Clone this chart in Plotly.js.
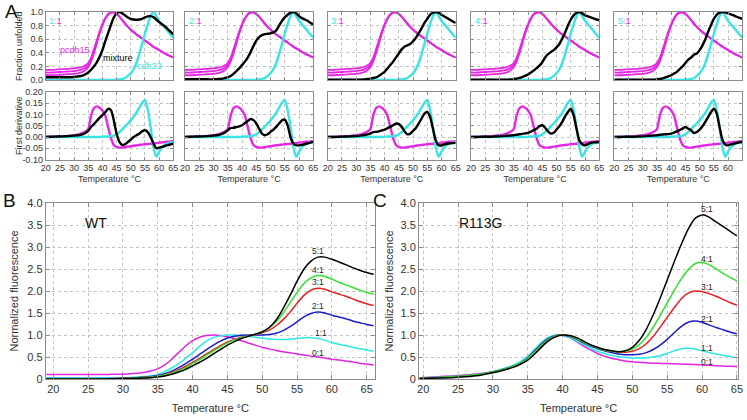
<!DOCTYPE html>
<html><head><meta charset="utf-8">
<script src="https://cdn.plot.ly/plotly-3.0.1.min.js"></script>
<style>html,body{margin:0;padding:0;background:#fff;}#chart{width:747px;height:420px;}</style>
</head><body><div id="chart"></div>
<script>
// ---------- Panel A data (fraction unfolded and first derivative) ----------
const tempA = [20,22,24,26,28,30,32,33,34,35,36,37,38,39,40,41,42,43,44,45,46,47,48,49,50,51,52,53,54,55,56,57,58,59,60,61,62,63,64,65];
const ratiosA = ['1','2','3','4','5'];
const pcdh15FracHi  = [0.15,0.15,0.155,0.16,0.165,0.17,0.185,0.195,0.215,0.25,0.33,0.45,0.58,0.71,0.82,0.91,0.97,0.995,0.995,0.97,0.93,0.88,0.83,0.78,0.74,0.705,0.67,0.64,0.61,0.58,0.55,0.52,0.49,0.465,0.44,0.415,0.39,0.37,0.35,0.33];
const pcdh15FracMid = [0.11,0.11,0.115,0.12,0.125,0.13,0.145,0.16,0.18,0.22,0.3,0.42,0.56,0.7,0.81,0.9,0.96,0.99,0.995,0.97,0.93,0.88,0.83,0.78,0.74,0.705,0.67,0.64,0.61,0.58,0.55,0.52,0.49,0.465,0.44,0.415,0.39,0.37,0.35,0.33];
const pcdh15FracLo  = [0.07,0.07,0.075,0.08,0.085,0.09,0.105,0.12,0.145,0.19,0.27,0.39,0.53,0.68,0.8,0.9,0.96,0.99,0.995,0.97,0.93,0.88,0.83,0.78,0.74,0.705,0.67,0.64,0.61,0.58,0.55,0.52,0.49,0.465,0.44,0.415,0.39,0.37,0.35,0.33];
const cdh23Frac = [0,0,0,0,0,0,0,0,0,0,0,0,0,0,0,0,0,0,0,0.005,0.01,0.015,0.03,0.06,0.1,0.16,0.25,0.38,0.53,0.68,0.82,0.94,1.0,0.94,0.87,0.82,0.77,0.72,0.67,0.62];
const mix11Frac = [0.04,0.04,0.04,0.04,0.04,0.045,0.055,0.065,0.085,0.11,0.15,0.2,0.26,0.34,0.44,0.57,0.69,0.81,0.92,0.98,1.0,0.98,0.95,0.92,0.9,0.89,0.885,0.89,0.9,0.92,0.935,0.94,0.925,0.89,0.85,0.82,0.79,0.75,0.71,0.67];
const mix21Frac = [0.01,0.01,0.01,0.01,0.01,0.01,0.015,0.02,0.03,0.04,0.06,0.09,0.13,0.17,0.22,0.27,0.33,0.41,0.5,0.58,0.63,0.66,0.675,0.68,0.685,0.7,0.73,0.8,0.87,0.92,0.96,0.99,1.0,0.98,0.94,0.91,0.89,0.87,0.84,0.82];
const mix31Frac = [0.005,0.005,0.005,0.005,0.005,0.005,0.005,0.01,0.015,0.02,0.03,0.04,0.06,0.09,0.12,0.17,0.22,0.27,0.33,0.39,0.45,0.49,0.51,0.53,0.57,0.62,0.69,0.76,0.84,0.9,0.96,0.99,1.0,0.99,0.96,0.935,0.91,0.885,0.86,0.84];
const mix41Frac = [0.005,0.005,0.005,0.005,0.005,0.005,0.005,0.005,0.008,0.01,0.02,0.03,0.045,0.06,0.08,0.11,0.14,0.175,0.21,0.26,0.33,0.38,0.41,0.44,0.48,0.53,0.61,0.7,0.8,0.89,0.95,0.99,1.0,0.98,0.95,0.935,0.92,0.905,0.89,0.88];
const mix51Frac = [0.005,0.005,0.005,0.005,0.005,0.005,0.005,0.005,0.005,0.01,0.015,0.025,0.04,0.055,0.07,0.095,0.12,0.16,0.2,0.25,0.3,0.33,0.37,0.39,0.44,0.51,0.6,0.71,0.81,0.9,0.96,0.99,1.0,0.995,0.98,0.965,0.95,0.93,0.915,0.9];
const pcdh15Deriv = [0,0.001,0.002,0.003,0.005,0.008,0.013,0.018,0.024,0.035,0.095,0.128,0.136,0.13,0.118,0.095,0.045,-0.005,-0.035,-0.044,-0.047,-0.047,-0.045,-0.043,-0.041,-0.039,-0.037,-0.035,-0.034,-0.032,-0.031,-0.03,-0.028,-0.027,-0.025,-0.024,-0.022,-0.021,-0.02,-0.019];
const cdh23Deriv = [0,0,0,0,0,0,0,0,0,0,0,0,0,0,0.001,0.002,0.003,0.004,0.006,0.012,0.022,0.034,0.047,0.06,0.074,0.09,0.108,0.13,0.152,0.165,0.12,0.045,-0.045,-0.088,-0.065,-0.047,-0.035,-0.028,-0.025,-0.022];
const mix11Deriv = [0,0.001,0.002,0.003,0.004,0.006,0.009,0.012,0.018,0.027,0.045,0.057,0.071,0.085,0.097,0.11,0.125,0.12,0.075,0.015,-0.022,-0.036,-0.032,-0.022,-0.012,0,0.008,0.015,0.025,0.03,0.022,0,-0.029,-0.05,-0.047,-0.044,-0.04,-0.036,-0.033,-0.03];
const mix21Deriv = [0,0.001,0.002,0.003,0.004,0.006,0.01,0.014,0.02,0.03,0.04,0.041,0.044,0.047,0.052,0.062,0.071,0.08,0.075,0.06,0.037,0.015,0.008,0.012,0.023,0.033,0.045,0.06,0.074,0.077,0.052,0,-0.029,-0.037,-0.037,-0.035,-0.032,-0.028,-0.025,-0.022];
const mix31Deriv = [0,0,0.001,0.002,0.003,0.004,0.007,0.009,0.012,0.016,0.022,0.023,0.025,0.029,0.033,0.039,0.045,0.052,0.06,0.057,0.045,0.025,0.012,0.015,0.027,0.04,0.06,0.082,0.104,0.111,0.089,0.037,-0.015,-0.037,-0.037,-0.033,-0.03,-0.028,-0.027,-0.026];
const mix41Deriv = [0,0,0.001,0.001,0.002,0.003,0.005,0.006,0.007,0.008,0.01,0.012,0.014,0.016,0.018,0.024,0.03,0.037,0.048,0.052,0.041,0.025,0.015,0.019,0.033,0.048,0.067,0.092,0.111,0.126,0.096,0.037,-0.015,-0.032,-0.037,-0.032,-0.026,-0.024,-0.023,-0.022];
const mix51Deriv = [0,0,0.001,0.001,0.002,0.003,0.005,0.006,0.007,0.008,0.01,0.011,0.012,0.013,0.015,0.02,0.025,0.031,0.037,0.045,0.037,0.03,0.018,0.022,0.033,0.048,0.067,0.089,0.111,0.126,0.104,0.045,-0.012,-0.034,-0.037,-0.033,-0.03,-0.026,-0.024,-0.022];
const fracTicks = [0,0.2,0.4,0.6,0.8,1.0];
const fracTickText = ['0.0','0.2','0.4','0.6','0.8','1.0'];
const derivTicks = [-0.1,-0.05,0,0.05,0.1,0.15,0.2];
const derivTickText = ['-0.10','-0.05','0.00','0.05','0.10','0.15','0.20'];
const tempTicks = [20,25,30,35,40,45,50,55,60,65];

// ---------- Panel B (WT) ----------
const tempB = [19,20,22,24,26,28,30,32,33,34,35,36,37,38,39,40,41,42,43,44,45,46,47,48,49,50,51,52,53,54,55,56,57,58,59,60,61,62,63,64,65,66];
const wt01 = [0.1,0.1,0.1,0.1,0.1,0.105,0.11,0.13,0.15,0.18,0.23,0.32,0.45,0.6,0.75,0.87,0.95,0.99,1.0,0.99,0.96,0.92,0.87,0.82,0.77,0.72,0.685,0.65,0.62,0.595,0.57,0.545,0.52,0.5,0.475,0.45,0.43,0.41,0.385,0.36,0.34,0.32];
const wt11 = [0.02,0.02,0.02,0.02,0.02,0.025,0.03,0.045,0.055,0.07,0.1,0.17,0.25,0.35,0.47,0.6,0.74,0.86,0.94,0.98,1.0,1.0,0.99,0.97,0.95,0.93,0.91,0.9,0.9,0.905,0.92,0.935,0.94,0.92,0.88,0.83,0.79,0.76,0.72,0.69,0.66,0.63];
const wt21 = [0.01,0.01,0.01,0.01,0.01,0.01,0.02,0.03,0.04,0.055,0.08,0.12,0.18,0.26,0.35,0.45,0.56,0.67,0.77,0.86,0.93,0.97,0.995,1.0,1.0,1.0,1.01,1.04,1.1,1.19,1.3,1.41,1.49,1.52,1.5,1.45,1.41,1.37,1.32,1.28,1.24,1.21];
const wt31 = [0.005,0.005,0.005,0.005,0.005,0.005,0.015,0.025,0.035,0.045,0.065,0.1,0.15,0.21,0.29,0.38,0.47,0.57,0.67,0.76,0.84,0.9,0.95,0.98,1.01,1.05,1.11,1.21,1.35,1.52,1.72,1.9,2.02,2.06,2.04,1.98,1.93,1.88,1.82,1.76,1.71,1.67];
const wt41 = [0.005,0.005,0.005,0.005,0.005,0.005,0.01,0.02,0.03,0.04,0.06,0.09,0.13,0.19,0.26,0.35,0.44,0.54,0.64,0.73,0.82,0.89,0.94,0.98,1.02,1.07,1.16,1.3,1.5,1.73,1.97,2.17,2.3,2.35,2.33,2.27,2.2,2.14,2.08,2.02,1.97,1.93];
const wt51 = [0,0,0,0,0,0.005,0.01,0.015,0.02,0.03,0.045,0.07,0.11,0.16,0.22,0.3,0.38,0.47,0.57,0.67,0.77,0.85,0.92,0.97,1.02,1.07,1.17,1.34,1.6,1.9,2.22,2.5,2.68,2.77,2.77,2.72,2.66,2.6,2.53,2.47,2.42,2.38];

// ---------- Panel C (R113G) ----------
const tempC = [19.5,22,24,26,28,30,32,33,34,35,36,37,38,39,40,41,42,43,44,45,46,47,48,49,50,51,52,53,54,55,56,57,58,59,60,61,62,63,64,65];
const mut01 = [0.03,0.05,0.07,0.09,0.12,0.17,0.25,0.3,0.37,0.46,0.6,0.76,0.9,0.98,0.99,0.94,0.85,0.75,0.66,0.58,0.52,0.47,0.44,0.41,0.39,0.38,0.37,0.36,0.355,0.35,0.345,0.34,0.335,0.33,0.32,0.31,0.3,0.295,0.29,0.285];
const mut11 = [0.02,0.04,0.06,0.08,0.11,0.17,0.26,0.32,0.4,0.52,0.68,0.84,0.95,1.0,0.99,0.94,0.86,0.78,0.7,0.63,0.58,0.54,0.51,0.49,0.48,0.475,0.48,0.5,0.53,0.58,0.64,0.69,0.7,0.68,0.64,0.6,0.57,0.54,0.51,0.48];
const mut21 = [0.02,0.03,0.05,0.07,0.1,0.16,0.24,0.29,0.36,0.48,0.64,0.8,0.92,0.99,1.0,0.97,0.9,0.82,0.75,0.69,0.64,0.6,0.57,0.55,0.55,0.56,0.6,0.67,0.77,0.9,1.05,1.19,1.29,1.32,1.29,1.23,1.17,1.12,1.07,1.03];
const mut31 = [0.02,0.03,0.05,0.07,0.1,0.16,0.24,0.29,0.36,0.46,0.61,0.77,0.9,0.98,1.0,0.98,0.92,0.84,0.77,0.71,0.66,0.63,0.61,0.61,0.63,0.69,0.8,0.97,1.18,1.4,1.62,1.82,1.95,2.0,1.99,1.94,1.88,1.81,1.74,1.68];
const mut41 = [0.02,0.03,0.05,0.07,0.1,0.16,0.24,0.29,0.36,0.46,0.61,0.77,0.9,0.98,1.0,0.98,0.92,0.84,0.77,0.71,0.66,0.63,0.62,0.63,0.68,0.78,0.95,1.18,1.45,1.73,2.01,2.27,2.48,2.62,2.65,2.6,2.5,2.4,2.31,2.23];
const mut51 = [0.01,0.02,0.03,0.05,0.08,0.14,0.22,0.27,0.34,0.43,0.57,0.73,0.87,0.96,1.0,0.99,0.94,0.86,0.78,0.72,0.67,0.64,0.62,0.64,0.72,0.88,1.13,1.46,1.84,2.25,2.66,3.05,3.4,3.65,3.73,3.68,3.57,3.47,3.36,3.25];
const ratioLabels = ['0:1','1:1','2:1','3:1','4:1','5:1'];
const labelPosB = [[58,0.6],[58.5,1.05],[58,1.65],[58,2.2],[58,2.47],[58,2.9]];
const labelPosC = [[60.7,0.39],[60.7,0.7],[60.7,1.36],[60.7,2.1],[60.7,2.72],[60.7,3.86]];
const fluorTicks = [0,0.5,1,1.5,2,2.5,3,3.5,4];
const fluorTickText = ['0','0.5','1.0','1.5','2.0','2.5','3.0','3.5','4.0'];

// ---------- build ----------
const W = 747, H = 420;
const MAG = '#e526e5', CYA = '#3ae4e4';
const lineColors = ['#e026e0','#2ee6e6','#1c1cc8','#e62020','#2ee22e','#000000'];
const FONT = 'Liberation Sans, Arial, sans-serif';
const dX = (a,b) => [a/W, b/W];
const dY = (top,bot) => [1-bot/H, 1-top/H];
const axBase = () => ({showline:true, mirror:'ticks', linecolor:'#8c8c8c', linewidth:1,
  ticks:'inside', ticklen:3, tickcolor:'#8c8c8c', showgrid:true, gridcolor:'#c4c4c4',
  griddash:'dot', gridwidth:1, zeroline:false, automargin:false, fixedrange:true,
  tickfont:{size:9, color:'#333', family:FONT}});

const colsA = [[45.7,173.3],[185,313.3],[327.7,455.7],[471,599.3],[614.3,742.3]];
const fracSets = [mix11Frac, mix21Frac, mix31Frac, mix41Frac, mix51Frac];
const derivSets = [mix11Deriv, mix21Deriv, mix31Deriv, mix41Deriv, mix51Deriv];

const layout = {width:W, height:H, margin:{l:0,r:0,t:0,b:0}, showlegend:false,
  paper_bgcolor:'#fff', plot_bgcolor:'#fff', font:{family:FONT, color:'#333'}, annotations:[]};
const data = [];

function addLine(x, y, ax, color, width){
  data.push({x:x, y:y, type:'scatter', mode:'lines', xaxis:'x'+(ax===1?'':ax), yaxis:'y'+(ax===1?'':ax),
    line:{color:color, width:width, shape:'spline', smoothing:0.6}, hoverinfo:'skip'});
}

colsA.forEach((c,i) => {
  const top = 2*i+1, bot = 2*i+2;
  const kT = top===1?'':top, kB = bot;
  const xt = axBase(); Object.assign(xt, {domain:dX(c[0],c[1]), range:[20,65], tickvals:tempTicks, showticklabels:false, anchor:'y'+kT});
  const yt = axBase(); Object.assign(yt, {domain:dY(12,80), range:[0,1], tickvals:fracTicks, ticktext:fracTickText, showticklabels:i===0, anchor:'x'+kT});
  const xb = axBase(); Object.assign(xb, {domain:dX(c[0],c[1]), range:[20,65], tickvals:tempTicks, anchor:'y'+kB,
    title:{text:'Temperature °C', font:{size:9, color:'#333'}, standoff:3}});
  const yb = axBase(); Object.assign(yb, {domain:dY(92,159.5), range:[-0.1,0.2], tickvals:derivTicks, ticktext:derivTickText, showticklabels:i===0, anchor:'x'+kB});
  layout['xaxis'+kT] = xt; layout['yaxis'+kT] = yt;
  layout['xaxis'+kB] = xb; layout['yaxis'+kB] = yb;
  addLine(tempA, pcdh15FracHi, top, MAG, 1.8);
  addLine(tempA, pcdh15FracMid, top, MAG, 1.8);
  addLine(tempA, pcdh15FracLo, top, MAG, 1.8);
  addLine(tempA, cdh23Frac, top, CYA, 2.4);
  addLine(tempA, fracSets[i], top, '#000', 2.4);
  addLine(tempA, pcdh15Deriv, bot, MAG, 2.4);
  addLine(tempA, cdh23Deriv, bot, CYA, 2.4);
  addLine(tempA, derivSets[i], bot, '#000', 2.4);
  layout.annotations.push({xref:'x'+kT, yref:'y'+kT, x:20.6, y:0.87, xanchor:'left', yanchor:'middle', showarrow:false,
    text:'<span style="color:'+CYA+'">'+ratiosA[i]+'</span><span style="color:#aaa">:</span><span style="color:'+MAG+'">1</span>',
    font:{size:9, family:FONT}});
});
// y-axis titles of panel A (left column)
layout.annotations.push({xref:'paper', yref:'paper', x:19/W, y:1-46/H, xanchor:'center', yanchor:'middle', textangle:-90, showarrow:false,
  text:'Fraction unfolded', font:{size:9, color:'#333', family:FONT}});
layout.annotations.push({xref:'paper', yref:'paper', x:19/W, y:1-126/H, xanchor:'center', yanchor:'middle', textangle:-90, showarrow:false,
  text:'First derivative', font:{size:9, color:'#333', family:FONT}});
// labels in first panel
layout.annotations.push({xref:'x', yref:'y', x:30.3, y:0.44, showarrow:false, text:'pcdh15', font:{size:9, color:MAG, family:FONT}});
layout.annotations.push({xref:'x', yref:'y', x:39.6, y:0.33, xanchor:'left', showarrow:false, text:'mixture', font:{size:9, color:'#000', family:FONT}});
layout.annotations.push({xref:'x', yref:'y', x:56.6, y:0.2, showarrow:false, text:'cdh23', font:{size:9, color:CYA, family:FONT}});

// Panels B and C
function bigPanel(ax, dom, xr, xs, sets, lbl, lblPos, name){
  const xa = axBase(); Object.assign(xa, {domain:dX(dom[0],dom[1]), range:xr, tickvals:tempTicks, anchor:'y'+ax,
    tickfont:{size:11, color:'#333', family:FONT}, ticklen:4,
    title:{text:'Temperature °C', font:{size:11, color:'#333'}, standoff:10}});
  const ya = axBase(); Object.assign(ya, {domain:dY(203,379), range:[0,4], tickvals:fluorTicks, ticktext:fluorTickText, anchor:'x'+ax,
    tickfont:{size:11, color:'#333', family:FONT}, ticklen:4,
    title:{text:'Normalized fluorescence', font:{size:11, color:'#333'}, standoff:name==='WT'?6:4}});
  layout['xaxis'+ax] = xa; layout['yaxis'+ax] = ya;
  sets.forEach((s,j) => addLine(xs, s, ax, lineColors[j], 1.5));
  lbl.forEach((t,j) => layout.annotations.push({xref:'x'+ax, yref:'y'+ax, x:lblPos[j][0], y:lblPos[j][1], showarrow:false,
    text:t, font:{size:8.5, color:'#222', family:FONT}}));
  layout.annotations.push({xref:'x'+ax, yref:'y'+ax, x:xr[0]+(name==='WT'?5.3:5.4), y:3.55, xanchor:'left', showarrow:false,
    text:name, font:{size:14, color:'#111', family:FONT}});
}
bigPanel(11, [45.7,375], [18.9,66.2], tempB, [wt01,wt11,wt21,wt31,wt41,wt51], ratioLabels, labelPosB, 'WT');
bigPanel(12, [419,738.3], [19.4,65.2], tempC, [mut01,mut11,mut21,mut31,mut41,mut51], ratioLabels, labelPosC, 'R113G');

// panel letters
[['A',11,11],['B',9,200],['C',380,200]].forEach(p => layout.annotations.push({xref:'paper', yref:'paper',
  x:p[1]/W, y:1-p[2]/H, xanchor:'center', yanchor:'middle', showarrow:false, text:p[0], font:{size:19, color:'#111', family:FONT}}));

Plotly.newPlot('chart', data, layout, {staticPlot:true, displayModeBar:false});
</script></body></html>
